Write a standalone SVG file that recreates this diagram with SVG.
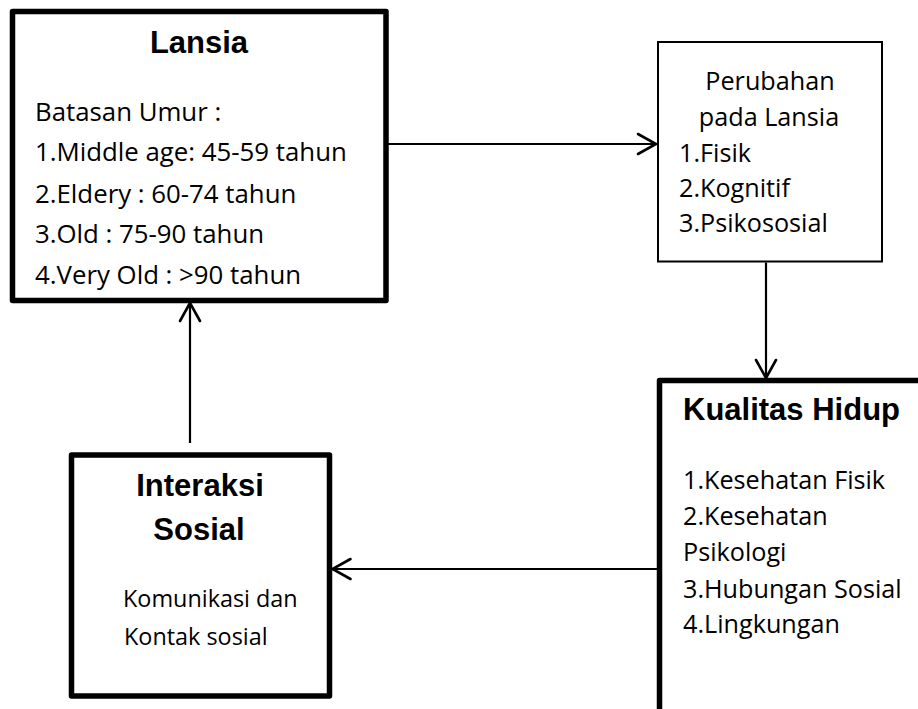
<svg xmlns="http://www.w3.org/2000/svg" width="918" height="709" viewBox="0 0 918 709">
<style>
.title{font-family:"Liberation Sans",Arial,sans-serif;font-weight:bold;font-size:31px;fill:#000}
.body{font-family:"Open Sans","Noto Sans",sans-serif;font-size:25.8px;fill:#000}
.mid{font-size:25.2px}
.small{font-size:23.4px}
.thick{fill:#fff;stroke:#000;stroke-width:5.5;stroke-linejoin:round}
.thin{fill:#fff;stroke:#000;stroke-width:2}
.conn{stroke:#000;stroke-width:2.2;fill:none}
</style>
<defs>
<marker id="arr" markerUnits="userSpaceOnUse" markerWidth="24" markerHeight="26" viewBox="0 0 24 26" refX="20" refY="13" orient="auto" overflow="visible">
<path d="M2,3 L20,13 L2,23" fill="none" stroke="#000" stroke-width="2.6" stroke-linecap="round" stroke-linejoin="miter"/>
</marker>
</defs>
<rect width="918" height="709" fill="#fff"/>
<g id="connectors">
<line class="conn" x1="388" y1="144" x2="656" y2="144" marker-end="url(#arr)"/>
<line class="conn" x1="766" y1="262.5" x2="766" y2="378" marker-end="url(#arr)"/>
<line class="conn" x1="657" y1="569" x2="332.5" y2="569" marker-end="url(#arr)"/>
<line class="conn" x1="190" y1="443" x2="190" y2="303" marker-end="url(#arr)"/>
</g>
<g id="lansia">
<rect class="thick" x="12.5" y="11.5" width="373.5" height="289"/>
<text class="title" x="199" y="53" text-anchor="middle">Lansia</text>
<text class="body" x="35" y="121">Batasan Umur :</text>
<text class="body" x="35" y="161">1.Middle age: 45-59 tahun</text>
<text class="body" x="35" y="203">2.Eldery : 60-74 tahun</text>
<text class="body" x="35" y="243">3.Old : 75-90 tahun</text>
<text class="body" x="35" y="284">4.Very Old : &gt;90 tahun</text>
</g>
<g id="perubahan">
<rect class="thin" x="658" y="42" width="224" height="219.5"/>
<text class="body mid" x="770" y="89.5" text-anchor="middle">Perubahan</text>
<text class="body mid" x="769" y="126" text-anchor="middle">pada Lansia</text>
<text class="body mid" x="679" y="162">1.Fisik</text>
<text class="body mid" x="679" y="197">2.Kognitif</text>
<text class="body mid" x="679" y="232">3.Psikososial</text>
</g>
<g id="kualitas">
<path class="thick" d="M659.5,712 V380.5 H922"/>
<text class="title" x="683" y="420">Kualitas Hidup</text>
<text class="body mid" x="683" y="488.5">1.Kesehatan Fisik</text>
<text class="body mid" x="683" y="525">2.Kesehatan</text>
<text class="body mid" x="683" y="561">Psikologi</text>
<text class="body mid" x="683" y="597.5">3.Hubungan Sosial</text>
<text class="body mid" x="683" y="633">4.Lingkungan</text>
</g>
<g id="interaksi">
<rect class="thick" x="71.5" y="455" width="258" height="241"/>
<text class="title" x="200" y="496" text-anchor="middle">Interaksi</text>
<text class="title" x="199" y="540" text-anchor="middle">Sosial</text>
<text class="body small" x="123" y="607">Komunikasi dan</text>
<text class="body small" x="124" y="645">Kontak sosial</text>
</g>
</svg>
